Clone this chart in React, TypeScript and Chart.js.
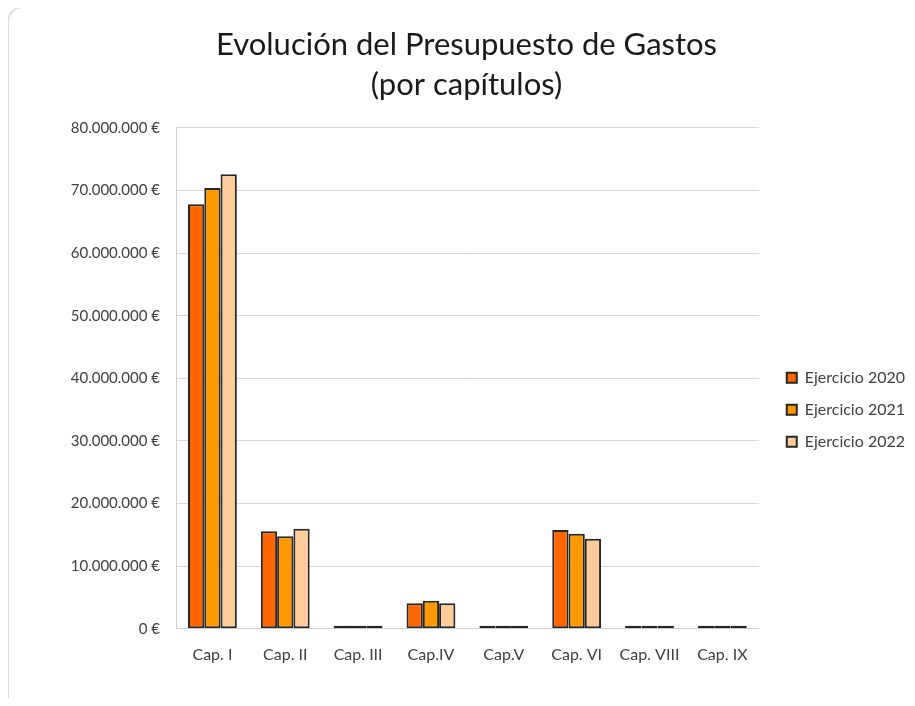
import React, { useEffect, useRef } from "react";
import { Chart, registerables } from "chart.js";

Chart.register(...registerables);

const categories = ["Cap. I", "Cap. II", "Cap. III", "Cap.IV", "Cap.V", "Cap. VI", "Cap. VIII", "Cap. IX"];
const ejercicio2020 = [67800000, 15600000, 0, 4100000, 0, 15800000, 0, 0];
const ejercicio2021 = [70400000, 14800000, 0, 4500000, 0, 15200000, 0, 0];
const ejercicio2022 = [72600000, 16000000, 0, 4100000, 0, 14400000, 0, 0];
const seriesLabels = ["Ejercicio 2020", "Ejercicio 2021", "Ejercicio 2022"];
const titleLines = ["Evolución del Presupuesto de Gastos", "(por capítulos)"];

const FONT = "Lato, 'Noto Sans', sans-serif";

function fmt(v: number): string {
  if (v === 0) return "0 €";
  return v.toString().replace(/\B(?=(\d{3})+(?!\d))/g, ".") + " €";
}

export default function App() {
  const ref = useRef<HTMLCanvasElement | null>(null);
  useEffect(() => {
    if (!ref.current) return;
    const colors = ["#FF6600", "#FF9900", "#FFCC99"];
    const data = [ejercicio2020, ejercicio2021, ejercicio2022];
    const chart = new Chart(ref.current, {
      type: "bar",
      data: {
        labels: categories,
        datasets: data.map((d, i) => ({
          label: seriesLabels[i],
          data: d,
          backgroundColor: colors[i],
          borderColor: "#262626",
          borderWidth: 2,
          borderSkipped: false,
          minBarLength: 3,
          categoryPercentage: 0.67,
          barPercentage: 1.0,
        })),
      },
      options: {
        responsive: false,
        animation: false,
        maintainAspectRatio: false,
        layout: { padding: { left: 18, right: 0, top: 10, bottom: 34 } },
        plugins: {
          title: {
            display: true,
            text: titleLines,
            color: "#1a1a1a",
            font: { family: FONT, size: 31, weight: "normal", lineHeight: 1.29 },
            padding: { top: 15, bottom: 23 },
          },
          legend: {
            position: "right",
            title: { display: true, text: "", padding: { top: 123, bottom: 0 }, font: { size: 12 } },
            labels: {
              boxWidth: 10,
              boxHeight: 10,
              padding: 16,
              color: "#404040",
              font: { family: FONT, size: 16 },
            },
          },
          tooltip: { enabled: false },
        },
        scales: {
          x: {
            grid: { display: false },
            border: { color: "#d0d0d0", width: 1 },
            ticks: { color: "#404040", font: { family: FONT, size: 16 }, padding: 8 },
          },
          y: {
            min: 0,
            max: 80000000,
            afterFit: (s: any) => {
              s.width = 158;
            },
            ticks: {
              stepSize: 10000000,
              color: "#404040",
              font: { family: FONT, size: 15 },
              padding: 16,
              callback: (v: any) => fmt(Number(v)),
            },
            grid: { color: "#d9d9d9", drawTicks: false },
            border: { color: "#d0d0d0", width: 1 },
          },
          gap: {
            type: "linear",
            position: "right",
            display: true,
            afterFit: (s: any) => {
              s.width = 12;
            },
            ticks: { display: false },
            grid: { display: false, drawTicks: false },
            border: { display: false },
          },
        },
      },
    });
    return () => chart.destroy();
  }, []);
  return (
    <div style={{ position: "relative", width: 915, height: 706, margin: -8, overflow: "hidden", background: "#fff" }}>
      <div
        style={{
          position: "absolute",
          left: 7,
          top: 6,
          width: 940,
          height: 720,
          border: "2px solid #dcdcdc",
          borderRadius: 16,
        }}
      />
      <canvas ref={ref} width={915} height={706} style={{ position: "absolute", left: 0, top: 0 }} />
    </div>
  );
}
